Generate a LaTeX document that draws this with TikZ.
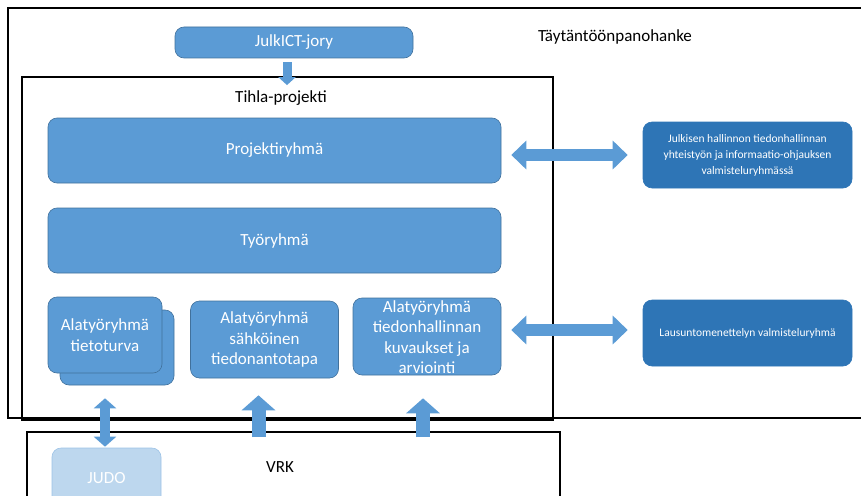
\documentclass[tikz,border=0pt]{standalone}
\usepackage{fontspec}
\setmainfont{Carlito}
\usepackage{xcolor}
\usetikzlibrary{arrows.meta,calc}

\definecolor{boxblue}{HTML}{5B9BD5}
\definecolor{edgeblue}{HTML}{41719C}
\definecolor{darkblue}{HTML}{2E75B6}
\definecolor{paleblue}{HTML}{BDD7EE}

\tikzset{
  frame/.style={draw=black, line width=1.3pt, fill=none},
  group/.style={draw=edgeblue, line width=.6pt, fill=boxblue, rounded corners=9pt,
    text=white, align=center, font=\fontsize{17}{20.5}\selectfont},
  outside/.style={group, draw=darkblue, fill=darkblue, font=\fontsize{11.5}{16}\selectfont},
  label/.style={text=black, font=\fontsize{17}{20}\selectfont},
  fat/.style={draw=boxblue, line width=#1}
}

\begin{document}
\begin{tikzpicture}[x=1pt, y=-1pt]
             \useasboundingbox (0,0) rectangle (861,495);
             \clip (0,0) rectangle (861,495);

             \node[frame, minimum width=900, minimum height=410] (hanke) at (458, 213) {};
             \node[frame, minimum width=531, minimum height=343] (tihlabox) at (287.5, 248.5) {};
             \node[frame, line width=1.8pt, minimum width=533, minimum height=100] (vrkbox) at (293.5, 482) {};

             \node[label] (hankelabel) at (615, 37) {Täytäntöönpanohanke};
             \node[label] (tihla) at (281, 98) {Tihla-projekti};
             \node[label] (vrk) at (280, 467) {VRK};

             \node[group, minimum width=238, minimum height=31] (jory) at (294, 42.5) {JulkICT-jory};
             \node[group, minimum width=453, minimum height=65] (proj) at (274.5, 150.5) {Projektiryhmä};
             \node[group, minimum width=453, minimum height=65] (tyo) at (274.5, 240.5) {Työryhmä};

             \node[group, minimum width=114, minimum height=75] (turvaB) at (117, 347.5) {};
             \node[group, minimum width=114, minimum height=76] (turva) at (105, 335) {Alatyöryhmä\\tietoturva};
             \node[group, minimum width=148, minimum height=77] (saho) at (264.5, 339.5) {Alatyöryhmä\\sähköinen\\tiedonantotapa};
             \node[group, minimum width=148, minimum height=77] (kuva) at (427, 336.5) {};
             \node[group, draw=none, fill=none] (kuvatext) at (427, 337) {Alatyöryhmä\\tiedonhallinnan\\kuvaukset ja\\arviointi};

             \node[outside, minimum width=209, minimum height=66] (julk) at (747.5, 155) {Julkisen hallinnon tiedonhallinnan\\yhteistyön ja informaatio-ohjauksen\\valmisteluryhmässä};
             \node[outside, minimum width=209, minimum height=66] (laus) at (747.5, 333) {Lausuntomenettelyn valmisteluryhmä};

             \node[group, draw=boxblue!60, fill=paleblue, minimum width=109, minimum height=60] (judo) at (106.5, 478) {JUDO};

             \draw[fat=9pt, -{Triangle[width=17pt,length=8pt]}] ($(jory.south)+(-7,4)$) -- ($(tihla.north)+(6,-2)$);

             \draw[fat=12pt, {Triangle[width=28pt,length=15pt]}-{Triangle[width=28pt,length=15pt]}] ($(proj.east|-julk.west)+(10,0)$) -- ($(julk.west)+(-15,0)$);
             \draw[fat=12pt, {Triangle[width=28pt,length=15pt]}-{Triangle[width=28pt,length=15pt]}] ($(kuva.east|-laus.west)+(10,-3)$) -- ($(laus.west)+(-15,-3)$);

             \draw[fat=10pt, {Triangle[width=22pt,length=10pt]}-{Triangle[width=22pt,length=10pt]}] ($(turva.south|-turvaB.south)+(0,13)$) -- ($(turva.south|-judo.north)+(0,-1)$);

             \draw[fat=14pt, -{Triangle[width=33pt,length=15pt]}] ($(saho.south|-vrkbox.north)+(-6,6)$) -- ($(saho.south)+(-6,17)$);
             \draw[fat=14pt, -{Triangle[width=33pt,length=15pt]}] ($(kuva.south|-vrkbox.north)+(-4,6)$) -- ($(kuva.south)+(-4,23)$);
             \end{tikzpicture}
\end{document}
